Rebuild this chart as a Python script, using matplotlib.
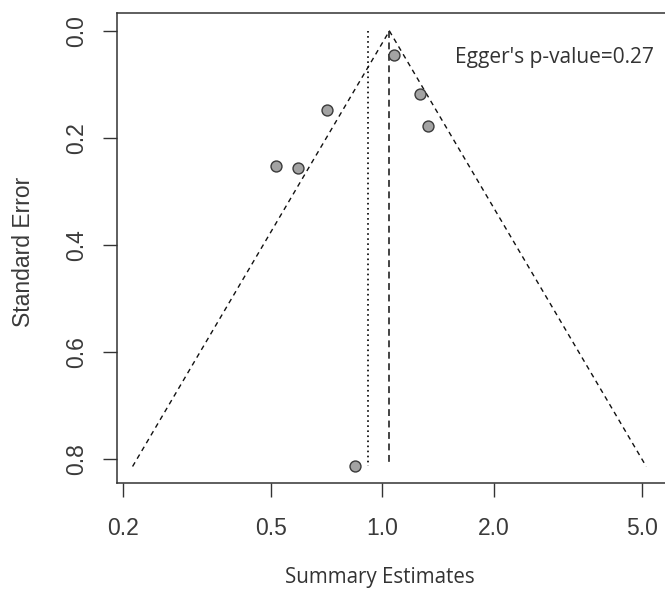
import numpy as np
import matplotlib
matplotlib.use("Agg")
import matplotlib.pyplot as plt

# Study-level estimates (ratio scale) and their standard errors
effects = [1.077, 1.26, 1.324, 0.710, 0.5175, 0.591, 0.842]
std_errors = [0.045, 0.118, 0.177, 0.1475, 0.2515, 0.2564, 0.8136]

# Pooled estimates
fixed_estimate = 1.044
random_estimate = 0.915

x_ticks = [0.2, 0.5, 1.0, 2.0, 5.0]
x_tick_labels = ["0.2", "0.5", "1.0", "2.0", "5.0"]
y_ticks = [0.0, 0.2, 0.4, 0.6, 0.8]
y_tick_labels = ["0.0", "0.2", "0.4", "0.6", "0.8"]

egger_text = "Egger's p-value=0.27"

W, H = 665, 591
fig = plt.figure(figsize=(W / 100, H / 100), dpi=100)
ax = fig.add_axes([117.3 / W, 1 - 483.3 / H, (666 - 117.3) / W, (483.3 - 13.3) / H])

ax.set_xscale("log")
ax.set_xlim(10 ** -0.715, 10 ** 0.7645)
ax.set_ylim(0.845, -0.033)

line_col = "#111111"
se_max = max(std_errors)

# pseudo 95% confidence funnel around the fixed-effect estimate
lo = fixed_estimate * np.exp(-1.96 * se_max)
hi = fixed_estimate * np.exp(1.96 * se_max)
ax.plot([lo, fixed_estimate, hi], [se_max, 0.0, se_max], color=line_col,
        lw=1.0, linestyle=(0, (3.5, 3)))

# pooled estimate reference lines
ax.plot([fixed_estimate, fixed_estimate], [0.0, se_max], color=line_col,
        lw=1.1, linestyle=(0, (4.5, 3)))
ax.plot([random_estimate, random_estimate], [0.0, se_max], color=line_col,
        lw=1.3, linestyle=(0, (0.9, 1.9)))

ax.scatter(effects, std_errors, s=62, facecolor="#a3a3a3", edgecolor="#3a3a3a",
           linewidth=1.0, zorder=3)

ax.text(455 / W, 1 - 63 / H, egger_text, transform=fig.transFigure,
        fontsize=15.0, family="Open Sans", color="#333333",
        ha="left", va="baseline")

# axes styling
for s in ax.spines.values():
    s.set_linewidth(1.1)
    s.set_color("#333333")

ax.set_xticks(x_ticks)
ax.set_xticklabels(x_tick_labels)
ax.xaxis.set_minor_locator(matplotlib.ticker.NullLocator())
ax.set_yticks(y_ticks)
ax.set_yticklabels(y_tick_labels, rotation=90, va="center")
ax.tick_params(axis="both", length=10, width=1.0, color="#333333",
               labelsize=16.5, labelcolor="#3a3a3a")
ax.tick_params(axis="x", pad=14)
ax.tick_params(axis="y", pad=11)
for lab in ax.get_xticklabels() + ax.get_yticklabels():
    lab.set_family("Liberation Sans")

fig.text(380 / W, 1 - 578 / H, "Summary Estimates", fontsize=14.8,
         family="Open Sans", color="#333333", ha="center", va="center")
fig.text(23.5 / W, 1 - 252 / H, "Standard Error", fontsize=16.5,
         family="Liberation Sans", color="#3a3a3a", ha="center", va="center",
         rotation=90)

fig.savefig("out.png", dpi=100)
